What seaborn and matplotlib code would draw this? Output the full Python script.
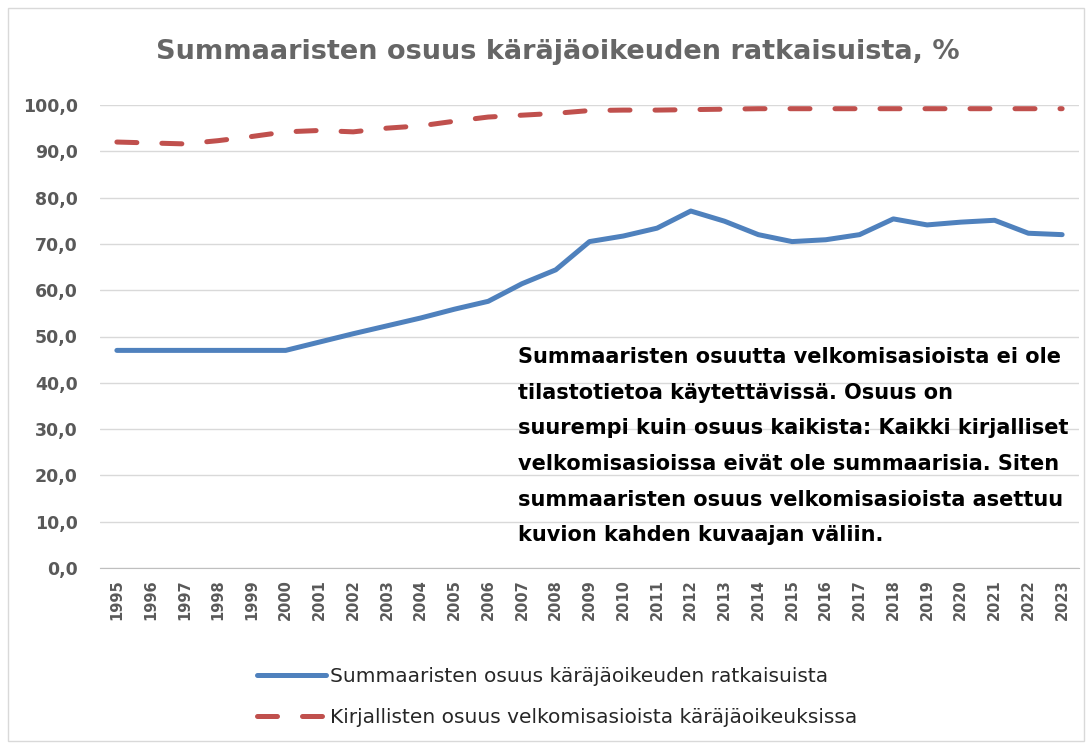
# Summaaristen osuus käräjäoikeuden ratkaisuista

import pandas as pd
import matplotlib.pyplot as plt
import seaborn as sns
from matplotlib.patches import Rectangle

years = list(range(1995, 2024))
summaariset = [47.0, 47.0, 47.0, 47.0, 47.0, 47.0, 48.8, 50.6, 52.3, 54.0,
               55.9, 57.6, 61.4, 64.4, 70.5, 71.7, 73.4, 77.1, 74.9, 72.0,
               70.5, 70.9, 72.0, 75.4, 74.1, 74.7, 75.1, 72.3, 72.0]
kirjalliset = [92.0, 91.8, 91.6, 92.3, 93.2, 94.2, 94.5, 94.2, 95.0, 95.5,
               96.5, 97.4, 97.8, 98.2, 98.8, 98.9, 98.9, 99.0, 99.1, 99.2,
               99.2, 99.2, 99.2, 99.2, 99.2, 99.2, 99.2, 99.2, 99.2]
label_sum = 'Summaaristen osuus käräjäoikeuden ratkaisuista'
label_kir = 'Kirjallisten osuus velkomisasioista käräjäoikeuksissa'

df = pd.DataFrame({'Vuosi': years, 'sum': summaariset, 'kir': kirjalliset})

sns.set_style('white')
plt.rcParams['font.family'] = ['DejaVu Sans']

fig = plt.figure(figsize=(10.92, 7.49), dpi=100)
fig.patches.append(Rectangle((8 / 1092, 8 / 749), 1076 / 1092, 733 / 749,
                             transform=fig.transFigure, fill=False,
                             edgecolor='#d9d9d9', linewidth=1))
ax = fig.add_axes([100 / 1092, 1 - 568 / 749, 979 / 1092, 463 / 749])

sns.lineplot(data=df, x='Vuosi', y='kir', ax=ax, color='#C0504D', linewidth=3.6,
             label=label_kir)
sns.lineplot(data=df, x='Vuosi', y='sum', ax=ax, color='#4F81BD', linewidth=3.6,
             label=label_sum)
red_line, blue_line = ax.lines[0], ax.lines[1]
red_line.set_dashes([4, 5])
red_line.set_dash_capstyle('round')
blue_line.set_solid_capstyle('round')

ax.set_xlim(1994.5, 2023.5)
ax.set_ylim(0, 100)
ax.set_xticks(years)
ax.set_xticklabels([str(y) for y in years], rotation=90, fontsize=10.5,
                   fontweight='bold', color='#595959')
ax.set_yticks(range(0, 101, 10))
ax.set_yticklabels([f'{v},0' for v in range(0, 101, 10)], fontsize=12.5,
                   fontweight='bold', color='#595959')
ax.tick_params(axis='x', length=0, pad=8)
ax.tick_params(axis='y', length=0, pad=16)
ax.grid(axis='y', color='#d9d9d9', linewidth=1)
for s in ['top', 'right', 'left']:
    ax.spines[s].set_visible(False)
ax.spines['bottom'].set_color('#bfbfbf')
ax.set_xlabel('')
ax.set_ylabel('')

fig.text(0.511, 1 - 52 / 749, 'Summaaristen osuus käräjäoikeuden ratkaisuista, %',
         ha='center', va='center', fontsize=19.5, fontweight='semibold', color='#666666')

note = ('Summaaristen osuutta velkomisasioista ei ole\n'
        'tilastotietoa käytettävissä. Osuus on\n'
        'suurempi kuin osuus kaikista: Kaikki kirjalliset\n'
        'velkomisasioissa eivät ole summaarisia. Siten\n'
        'summaaristen osuus velkomisasioista asettuu\n'
        'kuvion kahden kuvaajan väliin.')
fig.text(518 / 1092, 1 - 347 / 749, note, ha='left', va='top', fontsize=15,
         fontweight='bold', color='black', linespacing=1.98)

handles, labels = ax.get_legend_handles_labels()
ax.legend_.remove()
leg = fig.legend(handles[::-1], labels[::-1], loc='center',
                 bbox_to_anchor=(0.51, 1 - 697 / 749), frameon=False, fontsize=14.5,
                 handlelength=3.4, labelspacing=1.05, handletextpad=0.2)

fig.savefig('out.png', dpi=100)
